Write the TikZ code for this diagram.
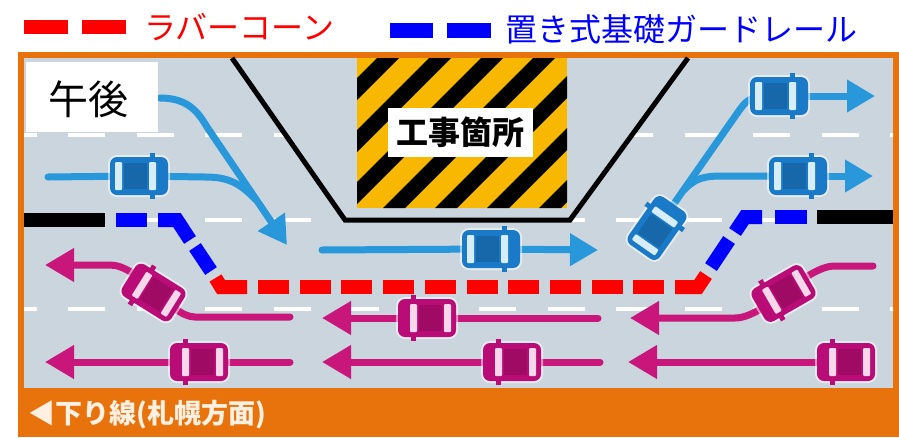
\documentclass[tikz,border=0pt]{standalone}
\usepackage{fontspec}
\newfontfamily\jp{Noto Sans CJK JP}
\usetikzlibrary{arrows.meta}

\definecolor{road}{RGB}{202,213,222}
\definecolor{frame}{RGB}{232,114,12}
\definecolor{signy}{RGB}{248,184,0}
\definecolor{arrB}{RGB}{40,152,218}
\definecolor{carB}{RGB}{26,122,200}
\definecolor{winB}{RGB}{215,238,250}
\definecolor{arrP}{RGB}{200,22,122}
\definecolor{carP}{RGB}{186,12,118}
\definecolor{winP}{RGB}{248,215,235}
\definecolor{legR}{RGB}{255,0,0}
\definecolor{legB}{RGB}{0,0,255}
\definecolor{capt}{RGB}{255,240,226}

% top-down car, facing +x, centred on the origin
\newcommand\carpic[2]{%
  \fill[white,opacity=.55,rounded corners=9pt] (-31,-21) rectangle (31,21);
  \fill[#1] (11,-23) rectangle (16,23);
  \fill[#1,rounded corners=7pt] (-29,-19) rectangle (29,19);
  \fill[#2,rounded corners=1pt] (-24,-14) rectangle (-17,14);
  \fill[#1!85!black] (-15,-13) rectangle (8,13);
  \fill[#2,rounded corners=1pt] (10,-14) rectangle (17,14);
}

\tikzset{
  pics/bluecar/.style={code={\carpic{carB}{winB}}},
  pics/pinkcar/.style={code={\carpic{carP}{winP}}},
  flowB/.style={draw=arrB,line width=7pt,line cap=round},
  flowP/.style={draw=arrP,line width=7pt,line cap=round},
  headB/.style={-{Triangle[length=28pt,width=31pt]}},
  headP/.style={-{Triangle[length=29pt,width=32pt]}},
  lanemark/.style={white,line width=4.5pt,dash pattern=on 37pt off 31.5pt},
  rail/.style={line width=14pt,line cap=butt,line join=miter},
  legtext/.style={anchor=west,inner sep=0pt,font=\jp\fontsize{32}{34}\selectfont},
}

\begin{document}
\begin{tikzpicture}[x=1pt,y=-1pt]
\useasboundingbox (0,0) rectangle (899,437);
\fill[white] (0,0) rectangle (899,437);

% frame and road surface
\fill[frame] (18,52) rectangle (899,437);
\fill[road] (24,58) rectangle (893,388);

% lane markings
\begin{scope}
  \clip (24,58) rectangle (893,388);
  \foreach \yy in {135,220,309} \draw[lanemark] (-0.5,\yy) -- (899,\yy);
\end{scope}

% work zone outline
\fill[road] (232,58) -- (345,220) -- (570,220) -- (688,58) -- cycle;
\draw[black,line width=5pt,line join=miter] (232,58) -- (345,220) -- (570,220) -- (688,58);

% hatched sign
\begin{scope}
  \clip (357,58) rectangle (567,208);
  \fill[signy] (357,58) rectangle (567,208);
  \foreach \c in {377,429,...,689}
    \fill[black] (\c,58) -- (\c+22,58) -- (\c-128,208) -- (\c-150,208) -- cycle;
\end{scope}
\node[fill=white,minimum width=145pt,minimum height=49pt,inner sep=0pt] (site)
  at (460.5,132.5) {\jp\bfseries\fontsize{32}{34}\selectfont 工事箇所};

% fixed barriers
\draw[black,rail] (24,220) -- (105,220);
\draw[black,rail] (817,217) -- (893,217);
% movable guard rail (left)
\draw[legB,rail] (116,220) -- (147,220);
\draw[legB,rail] (158,220) -- (177,220) -- (190,240);
\draw[legB,rail] (195,247) -- (211,271);
% rubber cones
\draw[legR,rail] (215.5,278) -- (221,287) -- (247,287);
\draw[legR,rail,dash pattern=on 31pt off 10.7pt] (258,287) -- (670,287);
\draw[legR,rail] (675,287) -- (698,287) -- (706,275);
% movable guard rail (right)
\draw[legB,rail] (711,267) -- (729,240);
\draw[legB,rail] (735,232) -- (745,217) -- (762,217);
\draw[legB,rail] (775,217) -- (807,217);

% upper lanes (blue traffic)
\coordinate (b1s) at (160,98);
\coordinate (b1e) at (287,245);
\draw[flowB,headB] (b1s) .. controls (188,98) and (198,112) .. (207,127) -- (b1e);
\coordinate (b2s) at (48,177);
\coordinate (cB1) at (139,176);
\draw[flowB] (b2s) -- (cB1) -- (205,177) .. controls (228,177) and (240,183) .. (256,200);
\coordinate (b3s) at (322,250);
\coordinate (cB2) at (491,249);
\coordinate (b3e) at (598,250);
\draw[flowB] (b3s) -- (cB2);
\draw[flowB,headB] (cB2) -- (b3e);
\coordinate (cB3) at (657,228);
\coordinate (cB4) at (779,96);
\coordinate (cB5) at (798,176);
\coordinate (b4e) at (875,96);
\coordinate (b5e) at (873,176);
\draw[flowB] (cB3) -- (736,115) .. controls (743,105) and (748,97) .. (760,97) -- (cB4);
\draw[flowB] (684,190) .. controls (695,178) and (705,176) .. (722,176) -- (cB5);
\draw[flowB,headB] (cB4) -- (b4e);
\draw[flowB,headB] (cB5) -- (b5e);

% lower lanes (pink traffic)
\coordinate (cP1) at (153.5,292.5);
\coordinate (p1s) at (290,317);
\coordinate (p1e) at (45,265);
\draw[flowP,headP] (p1s) -- (195,317) .. controls (170,317) and (140,265) .. (110,265) -- (p1e);
\coordinate (cP2) at (199,362);
\coordinate (p2s) at (290,362);
\coordinate (p2e) at (45,362);
\draw[flowP,headP] (p2s) -- (cP2) -- (p2e);
\coordinate (cP3) at (427,318);
\coordinate (p3s) at (598,318);
\coordinate (p3e) at (322,318);
\draw[flowP,headP] (p3s) -- (cP3) -- (p3e);
\coordinate (cP4) at (512,362);
\coordinate (p4s) at (600,362);
\coordinate (p4e) at (322,362);
\draw[flowP,headP] (p4s) -- (cP4) -- (p4e);
\coordinate (cP5) at (783.5,293.5);
\coordinate (p5s) at (873,266);
\coordinate (p5e) at (630,318);
\draw[flowP,headP] (p5s) -- (835,266) .. controls (805,266) and (765,318) .. (735,318) -- (p5e);
\coordinate (cP6) at (846,362);
\coordinate (p6e) at (628,362);
\draw[flowP,headP] (cP6) -- (p6e);

% cars
\pic at (cB1) {bluecar};
\pic at (cB2) {bluecar};
\pic[rotate=55] at (cB3) {bluecar};
\pic at (cB4) {bluecar};
\pic at (cB5) {bluecar};
\pic[rotate=148] at (cP1) {pinkcar};
\pic[rotate=180] at (cP2) {pinkcar};
\pic[rotate=180] at (cP3) {pinkcar};
\pic[rotate=180] at (cP4) {pinkcar};
\pic[rotate=210] at (cP5) {pinkcar};
\pic[rotate=180] at (cP6) {pinkcar};

% time-of-day label
\fill[white] (26,62) rectangle (158,132);
\node[inner sep=0pt] (pm) at (88,99.5) {\jp\fontsize{40}{42}\selectfont 午後};

% legend
\fill[legR] (24,20) rectangle (68,34);
\fill[legR] (82,20) rectangle (126,34);
\node[legtext,text=legR] (cones) at (144,27.5) {ラバーコーン};
\fill[legB] (390,23) rectangle (433,38);
\fill[legB] (447,23) rectangle (491,38);
\node[legtext,text=legB] (rail) at (505,29) {置き式基礎ガードレール};

% direction caption
\node[anchor=west,inner sep=0pt,text=capt] (dir) at (28,415)
  {\jp\bfseries\fontsize{27}{29}\selectfont ◀下り線(札幌方面)};
\end{tikzpicture}
\end{document}
